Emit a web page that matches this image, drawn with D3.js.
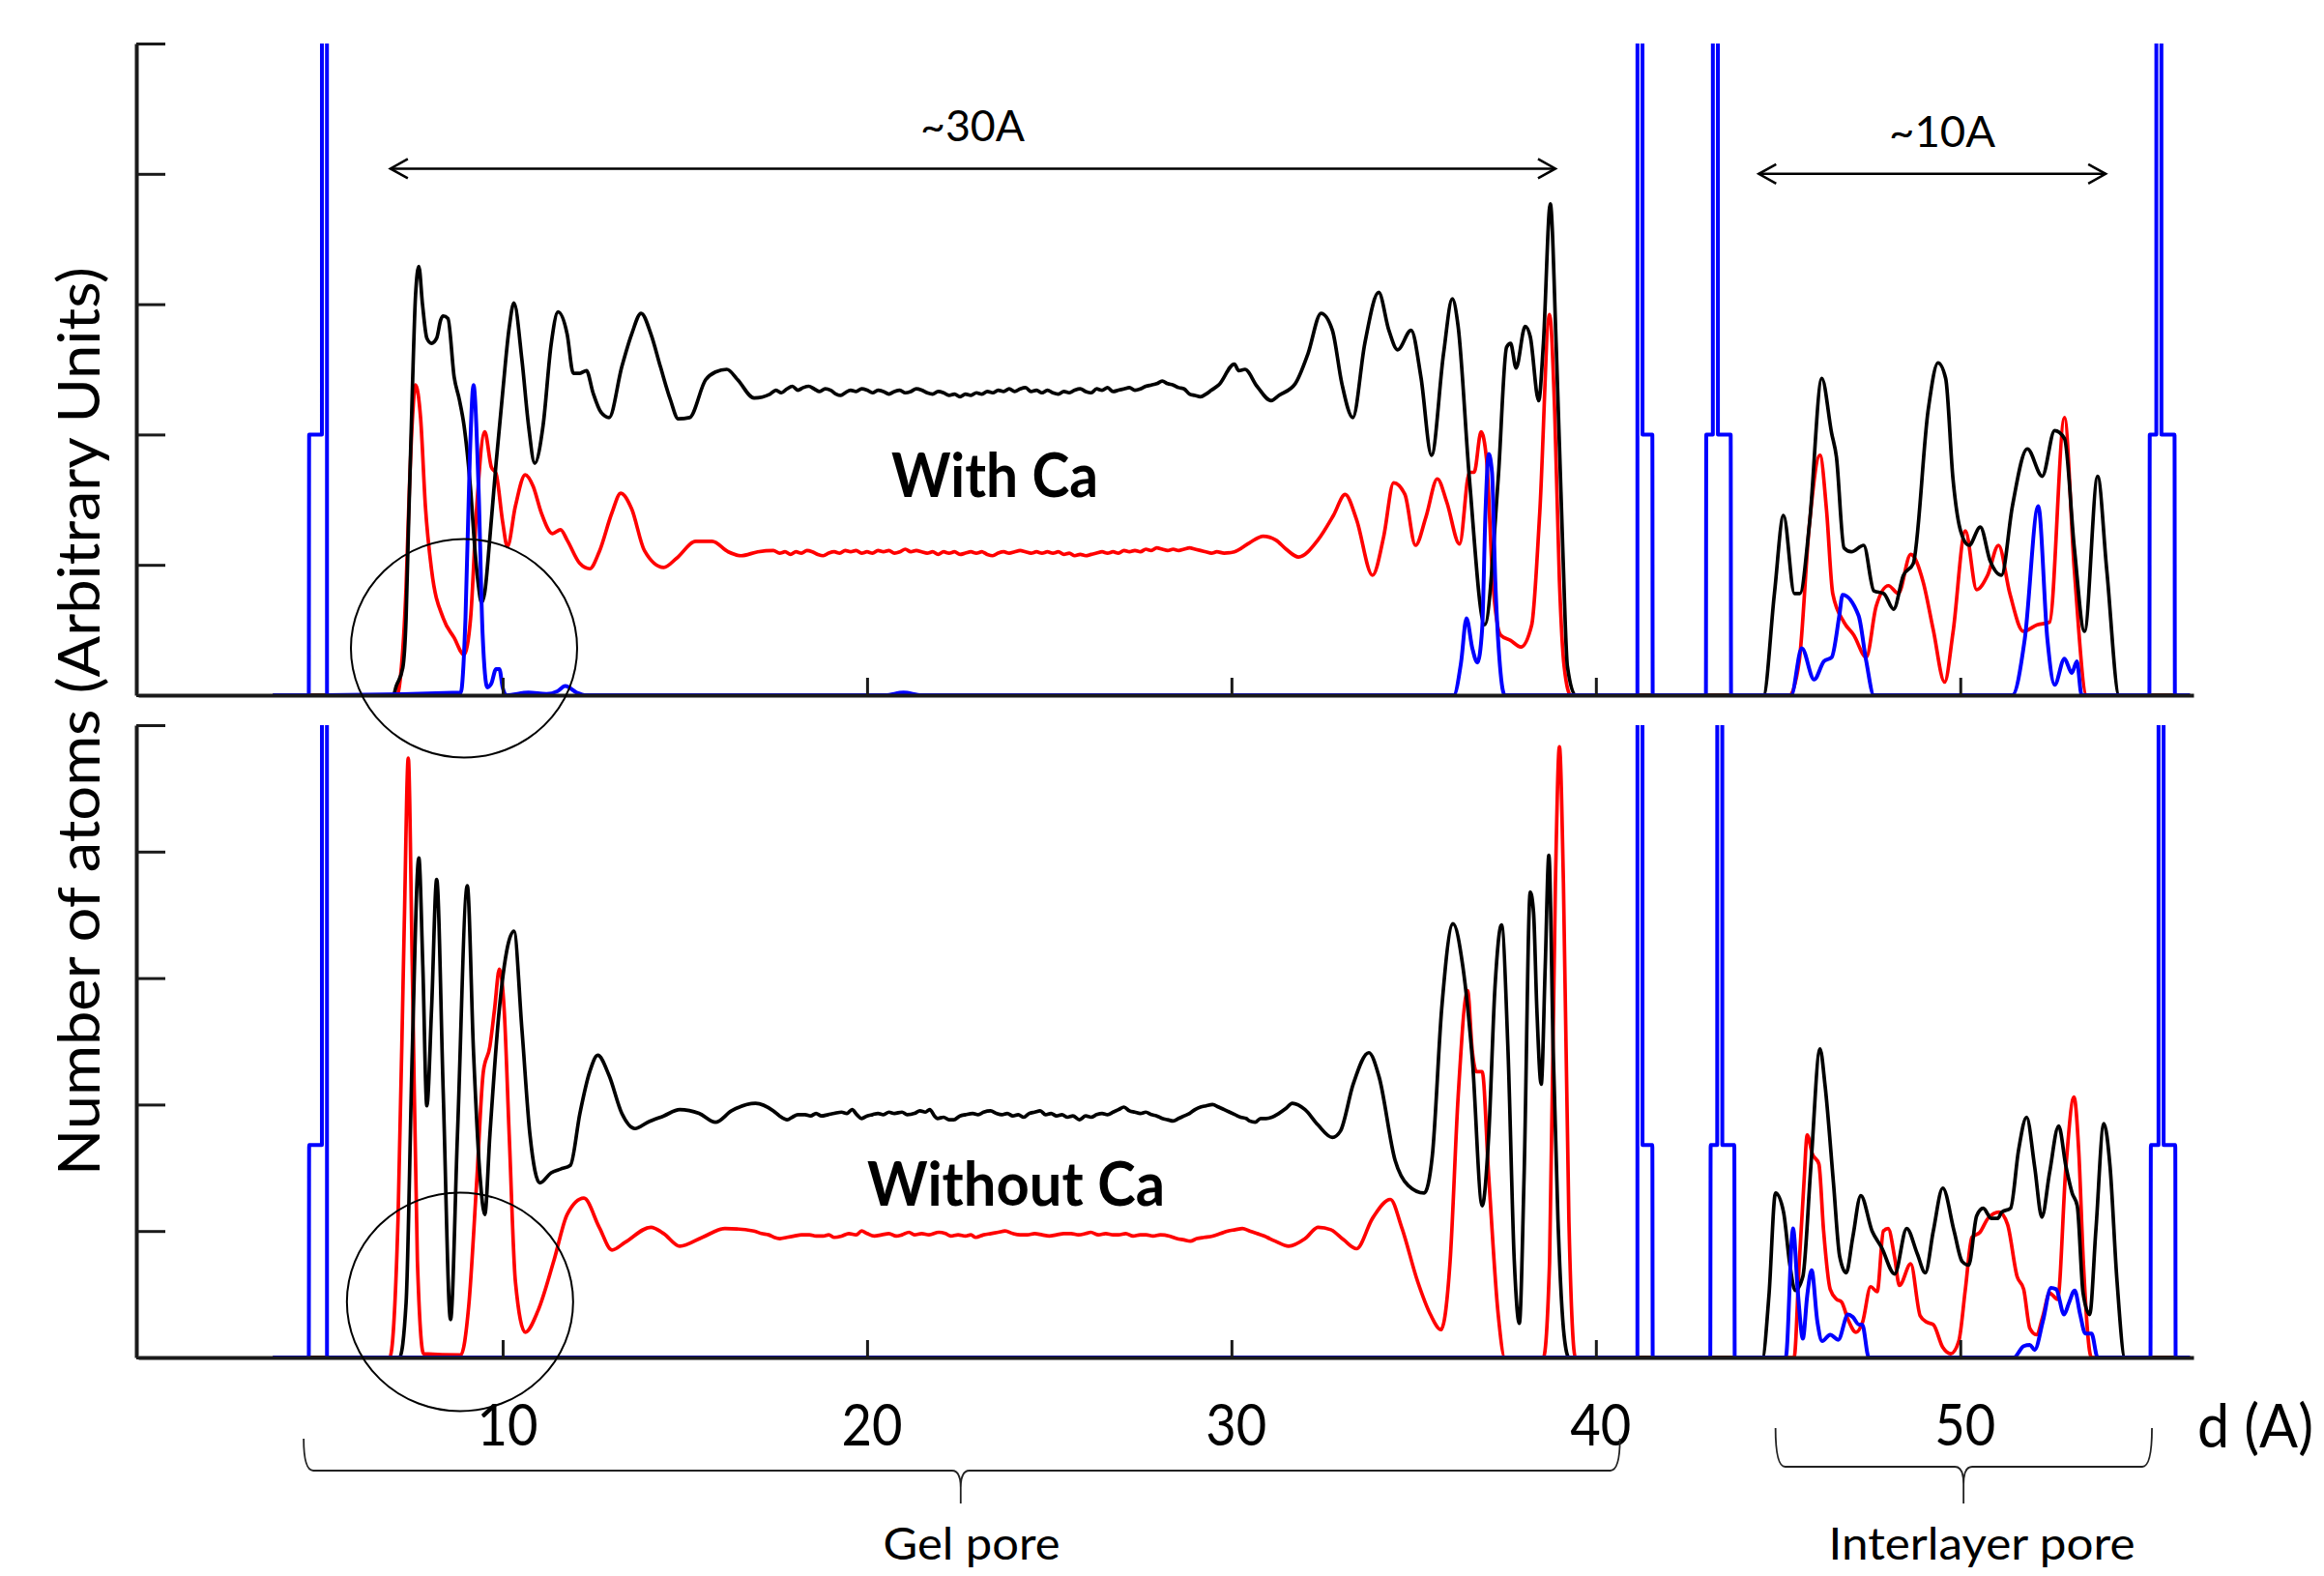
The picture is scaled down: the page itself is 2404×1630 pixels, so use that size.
<!DOCTYPE html>
<html>
<head>
<meta charset="utf-8">
<script src="https://cdnjs.cloudflare.com/ajax/libs/d3/7.8.5/d3.min.js"></script>
<style>
  body { margin: 0; background: #fff; }
  svg text { font-family: Lato, "Open Sans", sans-serif; fill: #000; }
</style>
</head>
<body>
<svg id="chart" width="2404" height="1630"></svg>
<script>
//////////////////////////////////////////////////////////////////////////////////////////
// DATA: [d (A), number of atoms in tick units] //////////////////////
//////////////////////////////////////////////////////////////////////////////////////////

var xTicks = [10, 20, 30, 40, 50];
var xTickLabels = ["10", "20", "30", "40", "50"];
var yTicks = [0, 1, 2, 3, 4, 5];

// with Ca
var topBlack = [[3.7,0],[7.0,0],[7.08,0.07],[7.26,0.21],[7.35,0.59],[7.42,1.33],[7.52,2.32],[7.61,3.07],[7.7,3.29],
  [7.8,3.0],[7.92,2.74],[8.05,2.7],[8.19,2.74],[8.3,2.88],[8.37,2.91],[8.5,2.89],[8.67,2.44],[8.81,2.27],[8.94,2.07],
  [9.12,1.58],[9.25,1.08],[9.34,0.83],[9.42,0.71],[9.51,0.79],[9.65,1.21],[9.82,1.78],[10.0,2.32],[10.18,2.82],
  [10.31,3.01],[10.53,2.57],[10.71,2.07],[10.88,1.78],[11.11,2.07],[11.33,2.69],[11.52,2.94],[11.77,2.77],[11.94,2.47],
  [12.12,2.47],[12.3,2.49],[12.48,2.32],[12.7,2.17],[12.92,2.13],[13.27,2.52],[13.54,2.77],[13.8,2.93],[14.07,2.77],
  [14.33,2.52],[14.6,2.27],[14.82,2.12],[15.13,2.13],[15.57,2.42],[15.84,2.48],[16.15,2.5],[16.45,2.42],[16.9,2.28],
  [17.34,2.31],[17.5,2.34],[17.65,2.32],[17.8,2.35],[17.95,2.37],[18.1,2.34],[18.25,2.36],[18.4,2.37],[18.55,2.35],
  [18.7,2.33],[18.85,2.35],[19.0,2.34],[19.15,2.31],[19.28,2.3],[19.4,2.32],[19.55,2.34],[19.7,2.33],[19.85,2.35],
  [20.0,2.34],[20.15,2.32],[20.3,2.34],[20.45,2.33],[20.6,2.31],[20.75,2.33],[20.9,2.34],[21.05,2.32],[21.2,2.33],
  [21.35,2.35],[21.5,2.34],[21.65,2.32],[21.8,2.31],[21.95,2.33],[22.1,2.32],[22.25,2.3],[22.4,2.31],[22.55,2.29],
  [22.7,2.31],[22.85,2.3],[23.0,2.32],[23.15,2.31],[23.3,2.33],[23.45,2.32],[23.6,2.34],[23.75,2.33],[23.9,2.35],
  [24.05,2.33],[24.2,2.35],[24.35,2.36],[24.5,2.33],[24.65,2.34],[24.8,2.32],[24.95,2.34],[25.1,2.32],[25.25,2.31],
  [25.4,2.33],[25.55,2.32],[25.7,2.34],[25.85,2.35],[26.0,2.33],[26.15,2.32],[26.3,2.35],[26.45,2.34],[26.6,2.36],
  [26.75,2.33],[26.9,2.34],[27.05,2.35],[27.2,2.36],[27.35,2.34],[27.5,2.35],[27.65,2.37],[27.8,2.38],[27.95,2.39],
  [28.1,2.41],[28.25,2.39],[28.4,2.38],[28.55,2.36],[28.7,2.35],[28.85,2.31],[29.0,2.3],[29.15,2.29],[29.3,2.31],
  [29.45,2.34],[29.65,2.38],[30.08,2.54],[30.2,2.49],[30.37,2.5],[30.7,2.37],[31.09,2.26],[31.3,2.3],[31.75,2.39],
  [32.1,2.62],[32.46,2.93],[32.77,2.8],[33.03,2.39],[33.33,2.13],[33.66,2.7],[34.04,3.09],[34.32,2.8],[34.56,2.65],
  [34.93,2.8],[35.2,2.44],[35.49,1.84],[35.82,2.62],[36.06,3.04],[36.22,2.83],[36.53,1.66],[36.95,0.54],[37.32,1.66],
  [37.55,2.67],[37.66,2.7],[37.81,2.51],[38.06,2.83],[38.2,2.75],[38.43,2.26],[38.56,2.7],[38.75,3.77],[38.91,2.7],
  [39.09,1.14],[39.22,0.22],[39.44,0],
  [44.6,0],[44.9,0.78],[45.15,1.38],[45.45,0.78],[45.6,0.78],[45.86,1.31],[46.2,2.43],[46.47,2.01],[46.6,1.83],
  [46.81,1.13],[47.01,1.1],[47.35,1.15],[47.63,0.8],[47.9,0.78],[48.17,0.66],[48.44,0.92],[48.71,1.01],[49.12,2.19],
  [49.39,2.55],[49.6,2.43],[49.8,1.66],[50.01,1.26],[50.24,1.15],[50.55,1.29],[50.82,1.03],[51.13,0.92],[51.43,1.45],
  [51.84,1.89],[52.25,1.68],[52.59,2.03],[52.86,1.97],[53.13,1.13],[53.41,0.49],[53.77,1.68],[54.02,0.96],[54.36,0],
  [56.3,0]];

var topRed = [[3.7,0],[7.1,0],[7.2,0.15],[7.35,0.83],[7.44,1.58],[7.52,2.1],[7.61,2.38],[7.75,2.12],[7.88,1.45],
  [8.05,0.96],[8.37,0.59],[8.67,0.44],[8.94,0.31],[9.12,0.59],[9.29,1.45],[9.51,2.02],[9.69,1.75],[9.82,1.7],
  [10.0,1.33],[10.13,1.14],[10.35,1.45],[10.62,1.69],[10.84,1.6],[11.06,1.4],[11.37,1.24],[11.59,1.27],[11.77,1.19],
  [12.12,1.01],[12.39,0.97],[12.65,1.1],[13.0,1.4],[13.24,1.55],[13.54,1.43],[13.89,1.11],[14.42,0.98],[14.77,1.05],
  [15.3,1.18],[15.75,1.18],[16.19,1.1],[16.54,1.07],[17.0,1.1],[17.43,1.11],[17.6,1.09],[17.75,1.1],[17.9,1.08],
  [18.05,1.1],[18.2,1.09],[18.35,1.11],[18.5,1.1],[18.65,1.08],[18.8,1.07],[18.95,1.09],[19.1,1.1],[19.25,1.09],
  [19.4,1.11],[19.55,1.1],[19.7,1.11],[19.85,1.09],[20.0,1.1],[20.15,1.09],[20.3,1.11],[20.45,1.1],[20.6,1.11],
  [20.75,1.09],[20.9,1.1],[21.05,1.12],[21.2,1.1],[21.35,1.11],[21.5,1.1],[21.65,1.09],[21.8,1.1],[21.95,1.08],
  [22.1,1.1],[22.25,1.09],[22.4,1.1],[22.55,1.08],[22.7,1.09],[22.85,1.1],[23.0,1.09],[23.15,1.1],[23.3,1.08],
  [23.45,1.07],[23.6,1.09],[23.75,1.1],[23.9,1.09],[24.05,1.1],[24.2,1.11],[24.35,1.1],[24.5,1.09],[24.65,1.1],
  [24.8,1.09],[24.95,1.1],[25.1,1.09],[25.25,1.1],[25.4,1.08],[25.55,1.09],[25.7,1.07],[25.85,1.08],[26.0,1.07],
  [26.15,1.08],[26.3,1.09],[26.45,1.1],[26.6,1.09],[26.75,1.1],[26.9,1.09],[27.05,1.11],[27.2,1.1],[27.35,1.11],
  [27.5,1.1],[27.65,1.12],[27.8,1.11],[27.95,1.13],[28.1,1.12],[28.25,1.11],[28.4,1.12],[28.55,1.11],[28.7,1.12],
  [28.85,1.13],[29.0,1.12],[29.15,1.11],[29.3,1.1],[29.45,1.09],[29.6,1.1],[29.8,1.09],[30.08,1.1],[30.5,1.17],
  [30.87,1.22],[31.22,1.19],[31.5,1.12],[31.84,1.06],[32.37,1.19],[32.8,1.38],[33.12,1.54],[33.43,1.35],[33.87,0.92],
  [34.18,1.22],[34.45,1.63],[34.76,1.54],[35.05,1.15],[35.34,1.37],[35.65,1.66],[35.91,1.48],[36.26,1.16],[36.53,1.71],
  [36.66,1.71],[36.85,2.02],[37.0,1.81],[37.17,0.88],[37.39,0.46],[37.66,0.42],[37.94,0.37],[38.24,0.54],[38.46,1.4],
  [38.73,2.92],[38.87,2.18],[39.0,0.88],[39.13,0.22],[39.31,0],
  [45.31,0],[45.58,0.26],[45.86,1.31],[46.15,1.84],[46.33,1.42],[46.5,0.78],[46.81,0.56],[47.08,0.46],[47.42,0.29],
  [47.69,0.68],[48.03,0.84],[48.3,0.78],[48.64,1.08],[48.98,0.87],[49.26,0.5],[49.57,0.1],[49.8,0.48],[50.14,1.26],
  [50.45,0.81],[50.75,0.92],[51.05,1.15],[51.36,0.78],[51.73,0.49],[52.11,0.54],[52.45,0.56],[52.86,2.13],[53.13,0.96],
  [53.47,0],[56.3,0]];

var topBlue = [[3.7,0],[4.68,0],[4.69,2],[5.04,2],[5.05,40],[5.17,40],[5.18,0],
  [8.85,0.02],[8.98,0.59],[9.1,1.83],[9.2,2.38],[9.34,1.58],[9.45,0.47],[9.58,0.06],[9.69,0.09],[9.82,0.2],[9.91,0.2],
  [10.0,0.06],[10.1,0],[10.71,0.02],[11.2,0.01],[11.5,0.03],[11.72,0.07],[12.03,0.02],[12.3,0],[20.5,0],[21.0,0.02],
  [21.5,0],[36.1,0],[36.3,0.25],[36.45,0.59],[36.61,0.36],[36.75,0.25],[36.88,0.51],[36.97,1.4],[37.06,1.85],
  [37.15,1.71],[37.24,0.88],[37.37,0.22],[37.5,0],
  [41.14,0],[41.15,40],[41.27,40],[41.28,2],[41.55,2],[41.56,0],
  [43.02,0],[43.03,2],[43.21,2],[43.22,40],[43.34,40],[43.35,2],[43.7,2],[43.71,0],
  [45.36,0],[45.65,0.36],[45.99,0.12],[46.26,0.26],[46.47,0.29],[46.68,0.61],[46.77,0.77],[47.21,0.61],[47.42,0.26],
  [47.63,0],[51.43,0],[51.77,0.43],[52.14,1.45],[52.39,0.43],[52.59,0.08],[52.86,0.28],[53.06,0.17],[53.2,0.26],
  [53.33,0],
  [55.19,0],[55.2,2],[55.38,2],[55.39,40],[55.51,40],[55.52,2],[55.88,2],[55.89,0],[56.3,0]];

// without Ca
var botBlack = [[3.7,0],[7.17,0],[7.35,0.43],[7.52,2.42],[7.7,3.95],[7.81,3.09],[7.92,1.99],[8.05,2.76],[8.19,3.78],
  [8.37,2.09],[8.57,0.3],[8.76,1.76],[9.03,3.73],[9.2,2.42],[9.38,1.43],[9.51,1.13],[9.65,1.76],[9.91,2.76],
  [10.31,3.37],[10.53,2.59],[10.75,1.76],[11.02,1.38],[11.33,1.46],[11.59,1.49],[11.86,1.52],[12.12,1.93],[12.39,2.26],
  [12.61,2.39],[12.92,2.23],[13.27,1.93],[13.63,1.81],[13.98,1.86],[14.42,1.91],[14.86,1.96],[15.39,1.93],[15.84,1.86],
  [16.28,1.95],[16.94,2.01],[17.43,1.95],[17.6,1.91],[17.81,1.88],[17.95,1.9],[18.1,1.92],[18.3,1.92],[18.45,1.91],
  [18.6,1.93],[18.75,1.91],[18.93,1.92],[19.1,1.93],[19.3,1.94],[19.45,1.93],[19.59,1.96],[19.72,1.92],[19.85,1.89],
  [20.0,1.91],[20.15,1.92],[20.3,1.93],[20.45,1.92],[20.6,1.94],[20.75,1.93],[20.96,1.94],[21.1,1.92],[21.3,1.93],
  [21.45,1.95],[21.6,1.94],[21.72,1.96],[21.85,1.91],[21.93,1.89],[22.1,1.9],[22.25,1.88],[22.38,1.88],[22.55,1.91],
  [22.7,1.92],[22.9,1.93],[23.05,1.92],[23.2,1.94],[23.39,1.95],[23.55,1.93],[23.7,1.92],[23.85,1.93],[24.0,1.91],
  [24.15,1.92],[24.3,1.9],[24.45,1.93],[24.6,1.94],[24.75,1.95],[24.9,1.92],[25.05,1.93],[25.2,1.91],[25.35,1.92],
  [25.5,1.9],[25.65,1.91],[25.83,1.88],[26.0,1.91],[26.15,1.9],[26.3,1.92],[26.45,1.93],[26.6,1.92],[26.75,1.94],
  [26.9,1.96],[27.05,1.98],[27.2,1.95],[27.35,1.94],[27.5,1.93],[27.65,1.94],[27.8,1.92],[27.95,1.91],[28.1,1.89],
  [28.25,1.88],[28.4,1.87],[28.55,1.89],[28.7,1.91],[28.85,1.93],[29.0,1.96],[29.15,1.98],[29.3,1.99],[29.48,2.0],
  [29.65,1.98],[29.8,1.96],[29.95,1.94],[30.1,1.92],[30.25,1.9],[30.4,1.89],[30.5,1.87],[30.65,1.86],[30.8,1.89],
  [30.95,1.89],[31.11,1.9],[31.3,1.93],[31.5,1.97],[31.67,2.01],[32.02,1.96],[32.37,1.84],[32.77,1.74],
  [32.99,1.79],[33.34,2.16],[33.77,2.41],[34.05,2.22],[34.49,1.56],[34.85,1.36],[35.29,1.3],[35.51,1.59],[35.77,2.76],
  [36.08,3.43],[36.35,3.09],[36.61,2.36],[36.88,1.2],[37.06,1.76],[37.23,2.92],[37.41,3.42],[37.59,2.42],[37.76,0.77],
  [37.9,0.27],[38.03,1.43],[38.2,3.68],[38.29,3.52],[38.38,2.76],[38.5,2.16],[38.61,3.09],[38.71,3.97],[38.83,2.42],
  [38.96,1.09],[39.13,0.17],[39.26,0],
  [44.57,0],[44.75,0.49],[44.93,1.3],[45.15,1.15],[45.32,0.74],[45.47,0.53],[45.68,0.64],[45.9,1.51],[46.15,2.44],
  [46.29,2.15],[46.52,1.38],[46.69,0.8],[46.87,0.67],[47.05,0.95],[47.27,1.28],[47.58,1.0],[47.84,0.87],[48.2,0.66],
  [48.53,1.02],[48.82,0.82],[49.04,0.67],[49.26,1.0],[49.52,1.34],[49.83,1.0],[50.05,0.76],[50.23,0.73],[50.45,1.12],
  [50.63,1.18],[50.85,1.1],[51.03,1.1],[51.14,1.15],[51.38,1.18],[51.6,1.64],[51.82,1.9],[52.04,1.51],[52.24,1.11],
  [52.45,1.46],[52.7,1.83],[52.9,1.51],[53.07,1.3],[53.21,1.2],[53.37,0.51],[53.55,0.34],[53.72,1.0],[53.94,1.85],
  [54.11,1.51],[54.3,0.61],[54.52,0],[56.3,0]];

var botRed = [[3.7,0],[6.9,0],[7.13,1.1],[7.3,3.42],[7.41,4.74],[7.52,3.09],[7.66,0.77],[7.83,0.03],[8.85,0.02],
  [9.07,0.41],[9.29,1.4],[9.47,2.26],[9.65,2.46],[9.78,2.76],[9.91,3.07],[10.04,2.76],[10.18,1.76],[10.35,0.6],
  [10.62,0.2],[10.97,0.37],[11.41,0.77],[11.77,1.13],[12.23,1.26],[12.65,1.03],[13.0,0.85],[13.36,0.91],[14.07,1.03],
  [14.42,0.98],[14.86,0.88],[15.48,0.95],[16.1,1.02],[16.9,1.0],[17.1,0.98],[17.3,0.97],[17.45,0.95],[17.61,0.94],
  [17.8,0.95],[18.0,0.96],[18.2,0.97],[18.42,0.97],[18.6,0.96],[18.8,0.96],[18.95,0.97],[19.1,0.95],[19.3,0.96],
  [19.5,0.98],[19.7,0.97],[19.85,1.0],[20.0,0.98],[20.2,0.96],[20.4,0.97],[20.6,0.98],[20.8,0.96],[20.96,0.97],
  [21.15,0.99],[21.3,0.97],[21.5,0.98],[21.7,0.97],[21.97,0.99],[22.15,0.98],[22.3,0.96],[22.5,0.97],[22.7,0.96],
  [22.85,0.97],[22.98,0.95],[23.2,0.97],[23.4,0.98],[23.6,0.99],[23.79,1.0],[24.0,0.98],[24.2,0.97],[24.4,0.97],
  [24.6,0.98],[24.8,0.97],[25.0,0.96],[25.2,0.97],[25.4,0.98],[25.6,0.98],[25.8,0.97],[26.0,0.98],[26.14,0.99],
  [26.35,0.97],[26.55,0.98],[26.75,0.97],[26.9,0.97],[27.1,0.98],[27.3,0.96],[27.5,0.97],[27.66,0.97],[27.85,0.96],
  [28.05,0.97],[28.3,0.96],[28.5,0.94],[28.7,0.93],[28.87,0.92],[29.05,0.94],[29.25,0.95],[29.48,0.96],[29.7,0.98],
  [29.9,1.0],[30.1,1.01],[30.3,1.02],[30.5,1.0],[30.7,0.98],[30.91,0.96],[31.05,0.94],[31.2,0.92],[31.57,0.88],
  [32.02,0.94],[32.38,1.03],[32.73,1.01],[33.08,0.93],[33.43,0.86],[33.87,1.1],[34.36,1.25],[34.67,1.03],[35.11,0.6],
  [35.46,0.34],[35.75,0.22],[36.0,0.76],[36.22,2.06],[36.48,2.9],[36.61,2.42],[36.72,2.26],[36.88,2.26],[37.06,1.43],
  [37.32,0.34],[37.5,0],[38.56,0],[38.73,0.76],[38.89,3.75],[39.0,4.83],[39.11,3.75],[39.26,1.09],[39.44,0],
  [45.44,0],[45.58,0.74],[45.71,1.38],[45.8,1.76],[45.94,1.61],[46.12,1.53],[46.25,1.0],[46.43,0.54],[46.61,0.46],
  [46.74,0.44],[46.92,0.3],[47.14,0.2],[47.32,0.28],[47.54,0.56],[47.72,0.52],[47.89,1.0],[48.02,1.02],[48.2,0.79],
  [48.33,0.57],[48.64,0.74],[48.9,0.33],[49.08,0.28],[49.26,0.26],[49.52,0.08],[49.74,0.03],[49.96,0.13],[50.14,0.54],
  [50.32,0.95],[50.54,0.99],[50.76,1.1],[51.07,1.15],[51.3,1.05],[51.56,0.64],[51.74,0.54],[51.91,0.23],[52.09,0.18],
  [52.27,0.33],[52.45,0.51],[52.67,0.46],[52.9,1.51],[53.12,2.06],[53.25,1.64],[53.38,0.74],[53.6,0],[56.3,0]];

var botBlue = [[3.7,0],[4.68,0],[4.69,1.68],[5.04,1.68],[5.05,40],[5.17,40],[5.18,0],
  [41.14,0],[41.15,40],[41.27,40],[41.28,1.68],[41.55,1.68],[41.56,0],
  [43.14,0],[43.15,1.68],[43.33,1.68],[43.34,40],[43.46,40],[43.47,1.68],[43.8,1.68],[43.81,0],
  [45.21,0],[45.41,1.02],[45.55,0.49],[45.68,0.15],[45.8,0.49],[45.92,0.69],[46.08,0.28],[46.21,0.13],[46.43,0.18],
  [46.65,0.14],[46.92,0.34],[47.05,0.32],[47.22,0.26],[47.31,0.26],[47.49,0],[51.47,0],[51.74,0.09],[51.91,0.1],
  [52.04,0.06],[52.27,0.29],[52.49,0.55],[52.63,0.54],[52.85,0.34],[52.98,0.43],[53.14,0.53],[53.29,0.34],[53.43,0.19],
  [53.6,0.19],[53.77,0],
  [55.22,0],[55.23,1.68],[55.44,1.68],[55.45,40],[55.57,40],[55.58,1.68],[55.9,1.68],[55.91,0],[56.3,0]];

//////////////////////////////////////////////////////////////////////////////////////////
// DRAWING ///////////////////////////////////////////////////////////////////////////////
//////////////////////////////////////////////////////////////////////////////////////////

var svg = d3.select("#chart");
svg.append("rect").attr("width", 2404).attr("height", 1630).attr("fill", "#fff");

var x = d3.scaleLinear().domain([0, 56.4]).range([143, 2269]);

var panels = [
  { y: d3.scaleLinear().domain([0, 5]).range([719, 45]), series: [topRed, topBlack, topBlue] },
  { y: d3.scaleLinear().domain([0, 5]).range([1404, 750]), series: [botRed, botBlack, botBlue] }
];
var colors = ["#ff0000", "#000000", "#0000ff"];
var widths = [3.7, 3.7, 4];

panels.forEach(function(p, i) {
  var base = p.y(0), top = p.y(5);

  svg.append("clipPath").attr("id", "clip" + i).append("rect")
    .attr("x", x(0)).attr("y", top)
    .attr("width", x.range()[1] - x(0) + 10).attr("height", base - top + 3);

  var line = d3.line()
    .x(function(d) { return x(d[0]); })
    .y(function(d) { return p.y(d[1]); })
    .curve(d3.curveMonotoneX);

  var g = svg.append("g").attr("clip-path", "url(#clip" + i + ")");
  p.series.forEach(function(s, j) {
    g.append("path").datum(s)
      .attr("d", line)
      .attr("fill", "none")
      .attr("stroke", colors[j])
      .attr("stroke-width", widths[j])
      .attr("stroke-linejoin", "round");
  });

  // y axis, ticks pointing inward
  var ya = svg.append("g").attr("transform", "translate(" + (x(0) - 2) + ",0)")
    .call(d3.axisRight(p.y).tickValues(yTicks).tickSize(30).tickSizeOuter(0).tickFormat(""));
  ya.select(".domain").attr("stroke", "#1a1a1a").attr("stroke-width", 4);
  ya.selectAll(".tick line").attr("stroke", "#1a1a1a").attr("stroke-width", 3);

  // x axis baseline with small upward ticks
  var xa = svg.append("g").attr("transform", "translate(0," + base + ")")
    .call(d3.axisTop(x).tickValues(xTicks).tickSize(18).tickSizeOuter(0).tickFormat(""));
  xa.select(".domain").attr("stroke", "#1a1a1a").attr("stroke-width", 4);
  xa.selectAll(".tick line").attr("stroke", "#1a1a1a").attr("stroke-width", 3);
});

var yTop = panels[0].y, yBot = panels[1].y;

// tick labels under the lower panel
svg.selectAll(".xlab").data(xTicks).enter().append("text")
  .attr("x", function(d) { return x(d) + 5; })
  .attr("y", 1495)
  .attr("text-anchor", "middle")
  .attr("font-size", 60)
  .attr("textLength", 63)
  .attr("lengthAdjust", "spacingAndGlyphs")
  .text(function(d, i) { return xTickLabels[i]; });

function label(txt, cx, baseline, size, width, weight) {
  return svg.append("text")
    .attr("x", cx).attr("y", baseline)
    .attr("text-anchor", "middle")
    .attr("font-size", size)
    .attr("font-weight", weight || 400)
    .attr("textLength", width)
    .attr("lengthAdjust", "spacingAndGlyphs")
    .text(txt);
}

label("d (A)", 2333, 1497, 62, 120);
label("Gel pore", 1005, 1613, 46, 183);
label("Interlayer pore", 2050, 1613, 46, 317);
label("~30A", 1006, 146, 45, 108);
label("~10A", 2009, 152, 45, 110);
label("With Ca", 1029, 514, 63, 214, 700);
label("Without Ca", 1051, 1247, 63, 308, 700);

svg.append("text")
  .attr("transform", "translate(103,746) rotate(-90)")
  .attr("text-anchor", "middle")
  .attr("font-size", 60)
  .attr("textLength", 940)
  .attr("lengthAdjust", "spacingAndGlyphs")
  .text("Number of atoms (Arbitrary Units)");

// double headed arrows
function dblArrow(x0, x1, yy) {
  var a = svg.append("g").attr("stroke", "#000").attr("stroke-width", 2.5).attr("fill", "none");
  a.append("line").attr("x1", x0).attr("x2", x1).attr("y1", yy).attr("y2", yy);
  a.append("path").attr("d", "M" + (x0 + 18) + "," + (yy - 10) + "L" + x0 + "," + yy + "L" + (x0 + 18) + "," + (yy + 10));
  a.append("path").attr("d", "M" + (x1 - 18) + "," + (yy - 10) + "L" + x1 + "," + yy + "L" + (x1 - 18) + "," + (yy + 10));
}
dblArrow(x(6.92), x(38.89), yTop(4.04));
dblArrow(x(44.47), x(53.99), yTop(4.0));

// circles marking the first layer
svg.append("ellipse").attr("cx", x(8.94)).attr("cy", yTop(0.36))
  .attr("rx", 117).attr("ry", 113).attr("fill", "none").attr("stroke", "#000").attr("stroke-width", 2);
svg.append("ellipse").attr("cx", x(8.83)).attr("cy", yBot(0.44))
  .attr("rx", 117).attr("ry", 113).attr("fill", "none").attr("stroke", "#000").attr("stroke-width", 2);

// curly braces under the axis
function brace(x0, x1, xm, yTop0, yLine, yTip) {
  var r = 10, c = 9;
  var d = "M" + x0 + "," + yTop0 +
    "Q" + x0 + "," + yLine + " " + (x0 + r) + "," + yLine +
    "L" + (xm - c) + "," + yLine +
    "Q" + xm + "," + yLine + " " + xm + "," + (yLine + 18) +
    "L" + xm + "," + yTip +
    "M" + xm + "," + (yLine + 18) +
    "Q" + xm + "," + yLine + " " + (xm + c) + "," + yLine +
    "L" + (x1 - r) + "," + yLine +
    "Q" + x1 + "," + yLine + " " + x1 + "," + yTop0;
  svg.append("path").attr("d", d).attr("fill", "none").attr("stroke", "#222").attr("stroke-width", 1.8);
}
brace(x(4.54), x(40.66), x(22.57), 1488, 1521, 1555);
brace(x(44.93), x(55.26), x(50.09), 1477, 1517, 1555);
</script>
</body>
</html>
